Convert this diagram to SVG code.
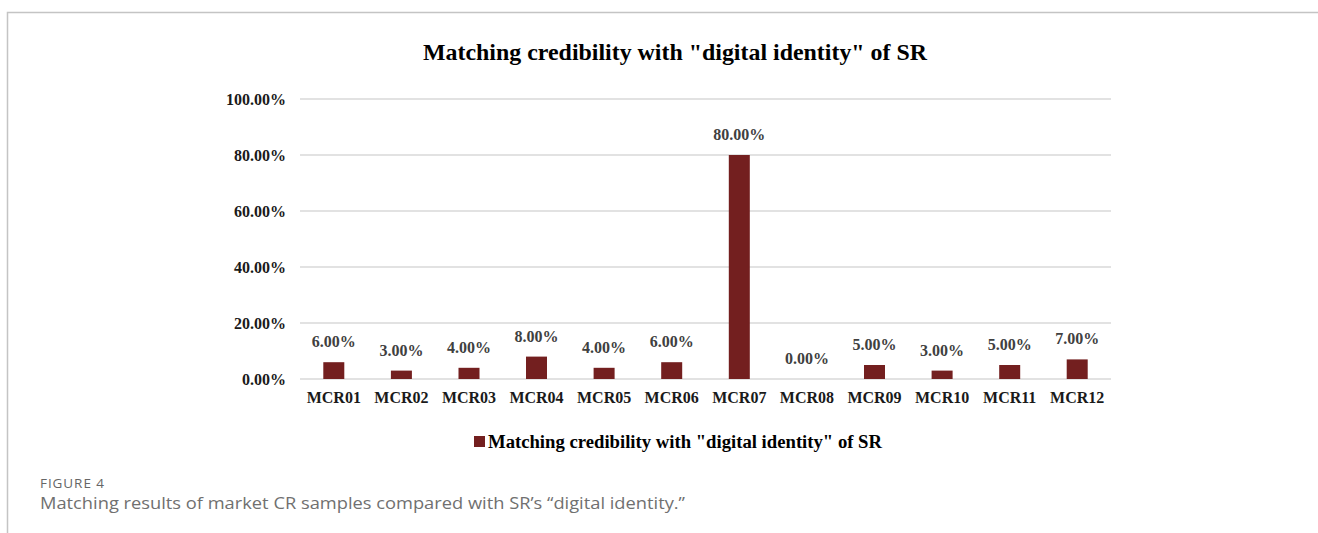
<svg xmlns="http://www.w3.org/2000/svg" width="1318" height="533" viewBox="0 0 1318 533">
  <style>
    .frame { stroke: #c4c4c4; stroke-width: 1.5; fill: none; }
    .grid { stroke: #e2e2e2; stroke-width: 2; }
    .bar { fill: #731f1f; }
    .title { font-family: "Liberation Serif", "Times New Roman", serif; font-weight: bold; font-size: 23.5px; fill: #000; text-anchor: middle; }
    .tick { font-family: "Liberation Serif", "Times New Roman", serif; font-weight: bold; font-size: 16px; fill: #1a1a1a; text-anchor: end; }
    .cat { font-family: "Liberation Serif", "Times New Roman", serif; font-weight: bold; font-size: 16px; fill: #1a1a1a; text-anchor: middle; }
    .val { font-family: "Liberation Serif", "Times New Roman", serif; font-weight: bold; font-size: 16px; fill: #404040; text-anchor: middle; }
    .legend { font-family: "Liberation Serif", "Times New Roman", serif; font-weight: bold; font-size: 18.6px; fill: #000; }
    .figlabel { font-family: "Open Sans", "Noto Sans", sans-serif; font-size: 13.5px; fill: #666; }
    .caption { font-family: "Open Sans", "Noto Sans", sans-serif; font-size: 16.5px; fill: #707070; }
  </style>

  <!-- page frame -->
  <path class="frame" d="M7.5,533 V12.5 H1318"/>

  <!-- chart title -->
  <text class="title" x="675" y="60" textLength="504" lengthAdjust="spacingAndGlyphs">Matching credibility with "digital identity" of SR</text>

  <!-- horizontal gridlines and y-axis labels -->
  <g id="y-axis">
    <line class="grid" x1="300" y1="99" x2="1111" y2="99"/>
    <line class="grid" x1="300" y1="155" x2="1111" y2="155"/>
    <line class="grid" x1="300" y1="211" x2="1111" y2="211"/>
    <line class="grid" x1="300" y1="267" x2="1111" y2="267"/>
    <line class="grid" x1="300" y1="323" x2="1111" y2="323"/>
    <line class="grid" x1="300" y1="379" x2="1111" y2="379"/>
    <text class="tick" x="286" y="105">100.00%</text>
    <text class="tick" x="286" y="161">80.00%</text>
    <text class="tick" x="286" y="217">60.00%</text>
    <text class="tick" x="286" y="273">40.00%</text>
    <text class="tick" x="286" y="329">20.00%</text>
    <text class="tick" x="286" y="385">0.00%</text>
  </g>

  <!-- bars: 100% = 280px above baseline y=379, category width 67.58 -->
  <g id="bars">
    <g id="MCR01"><rect class="bar" x="323.3" y="362.2" width="21" height="16.8"/><text class="val" x="333.8" y="347.2">6.00%</text><text class="cat" x="333.8" y="403">MCR01</text></g>
    <g id="MCR02"><rect class="bar" x="390.9" y="370.6" width="21" height="8.4"/><text class="val" x="401.4" y="355.6">3.00%</text><text class="cat" x="401.4" y="403">MCR02</text></g>
    <g id="MCR03"><rect class="bar" x="458.5" y="367.8" width="21" height="11.2"/><text class="val" x="469.0" y="352.8">4.00%</text><text class="cat" x="469.0" y="403">MCR03</text></g>
    <g id="MCR04"><rect class="bar" x="526.0" y="356.6" width="21" height="22.4"/><text class="val" x="536.5" y="341.6">8.00%</text><text class="cat" x="536.5" y="403">MCR04</text></g>
    <g id="MCR05"><rect class="bar" x="593.6" y="367.8" width="21" height="11.2"/><text class="val" x="604.1" y="352.8">4.00%</text><text class="cat" x="604.1" y="403">MCR05</text></g>
    <g id="MCR06"><rect class="bar" x="661.2" y="362.2" width="21" height="16.8"/><text class="val" x="671.7" y="347.2">6.00%</text><text class="cat" x="671.7" y="403">MCR06</text></g>
    <g id="MCR07"><rect class="bar" x="728.8" y="155" width="21" height="224"/><text class="val" x="739.3" y="140">80.00%</text><text class="cat" x="739.3" y="403">MCR07</text></g>
    <g id="MCR08"><text class="val" x="806.9" y="364">0.00%</text><text class="cat" x="806.9" y="403">MCR08</text></g>
    <g id="MCR09"><rect class="bar" x="864.0" y="365" width="21" height="14"/><text class="val" x="874.5" y="350">5.00%</text><text class="cat" x="874.5" y="403">MCR09</text></g>
    <g id="MCR10"><rect class="bar" x="931.6" y="370.6" width="21" height="8.4"/><text class="val" x="942.1" y="355.6">3.00%</text><text class="cat" x="942.1" y="403">MCR10</text></g>
    <g id="MCR11"><rect class="bar" x="999.2" y="365" width="21" height="14"/><text class="val" x="1009.7" y="350">5.00%</text><text class="cat" x="1009.7" y="403">MCR11</text></g>
    <g id="MCR12"><rect class="bar" x="1066.7" y="359.4" width="21" height="19.6"/><text class="val" x="1077.2" y="344.4">7.00%</text><text class="cat" x="1077.2" y="403">MCR12</text></g>
  </g>

  <!-- legend -->
  <g id="legend">
    <rect class="bar" x="474" y="436" width="11" height="11"/>
    <text class="legend" x="488" y="448" textLength="394" lengthAdjust="spacingAndGlyphs">Matching credibility with "digital identity" of SR</text>
  </g>

  <!-- figure caption -->
  <text class="figlabel" x="40" y="488" textLength="64" lengthAdjust="spacing">FIGURE 4</text>
  <text class="caption" x="40" y="509" textLength="645" lengthAdjust="spacingAndGlyphs">Matching results of market CR samples compared with SR’s “digital identity.”</text>
</svg>
